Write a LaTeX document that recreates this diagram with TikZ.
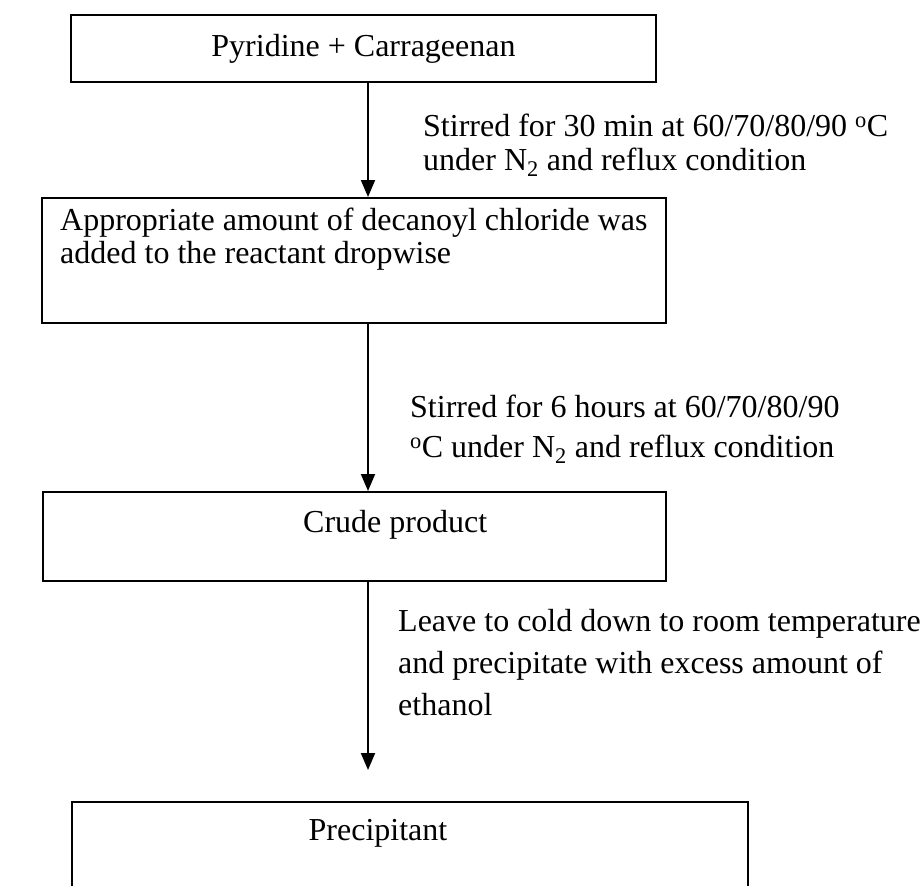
\documentclass[tikz,border=0pt]{standalone}
\usepackage{fontspec}
\setmainfont{Liberation Serif}
\usetikzlibrary{arrows.meta}
\begin{document}
\begin{tikzpicture}[x=1pt,y=-1pt,
  box/.style={draw, line width=2pt, inner sep=0pt},
  txt/.style={inner sep=0pt, align=left},
  flow/.style={line width=2pt, -{Triangle[width=14pt,length=17pt]}}]
\useasboundingbox (0,0) rectangle (924,886);
\clip (0,0) rectangle (924,886);
\fill[white] (0,0) rectangle (924,886);
% boxes
\node[box, font=\fontsize{32}{34}\selectfont, minimum width=585pt, minimum height=67pt] (b1) at (363.5,48.5) {Pyridine + Carrageenan};
\node[box, minimum width=624pt, minimum height=125pt, anchor=north west] (b2) at (41,197) {};
\node[txt, font=\fontsize{32}{33}\selectfont, anchor=north west] (t2) at (60,208) {Appropriate amount of decanoyl chloride was\\added to the reactant dropwise};
\node[box, minimum width=623pt, minimum height=89pt, anchor=north west] (b3) at (42,491) {};
\node[txt, font=\fontsize{32}{34}\selectfont, anchor=base west] (t3) at (303,532) {Crude product};
\node[box, minimum width=676pt, minimum height=130pt, anchor=north west] (b4) at (71,801) {};
\node[txt, font=\fontsize{32}{34}\selectfont, anchor=base] (t4) at (378,840) {Precipitant};
% connectors
\coordinate (ax) at (368,0);
\coordinate (e3) at (368,770);
\draw[flow] (b1.south -| ax) -- (b2.north -| ax);
\draw[flow] (b2.south -| ax) -- (b3.north -| ax);
\draw[flow] (b3.south -| ax) -- (e3);
% labels
\node[txt, font=\fontsize{32}{34}\selectfont, anchor=north west] (l1) at (423,114) {Stirred for 30 min at 60/70/80/90 \textsuperscript{o}C\\under N\textsubscript{2} and reflux condition};
\node[txt, font=\fontsize{32}{40}\selectfont, anchor=north west] (l2) at (410,395) {Stirred for 6 hours at 60/70/80/90\\\textsuperscript{o}C under N\textsubscript{2} and reflux condition};
\node[txt, font=\fontsize{32}{42}\selectfont, anchor=north west] (l3) at (398,609) {Leave to cold down to room temperature\\and precipitate with excess amount of\\ethanol};
\end{tikzpicture}
\end{document}
